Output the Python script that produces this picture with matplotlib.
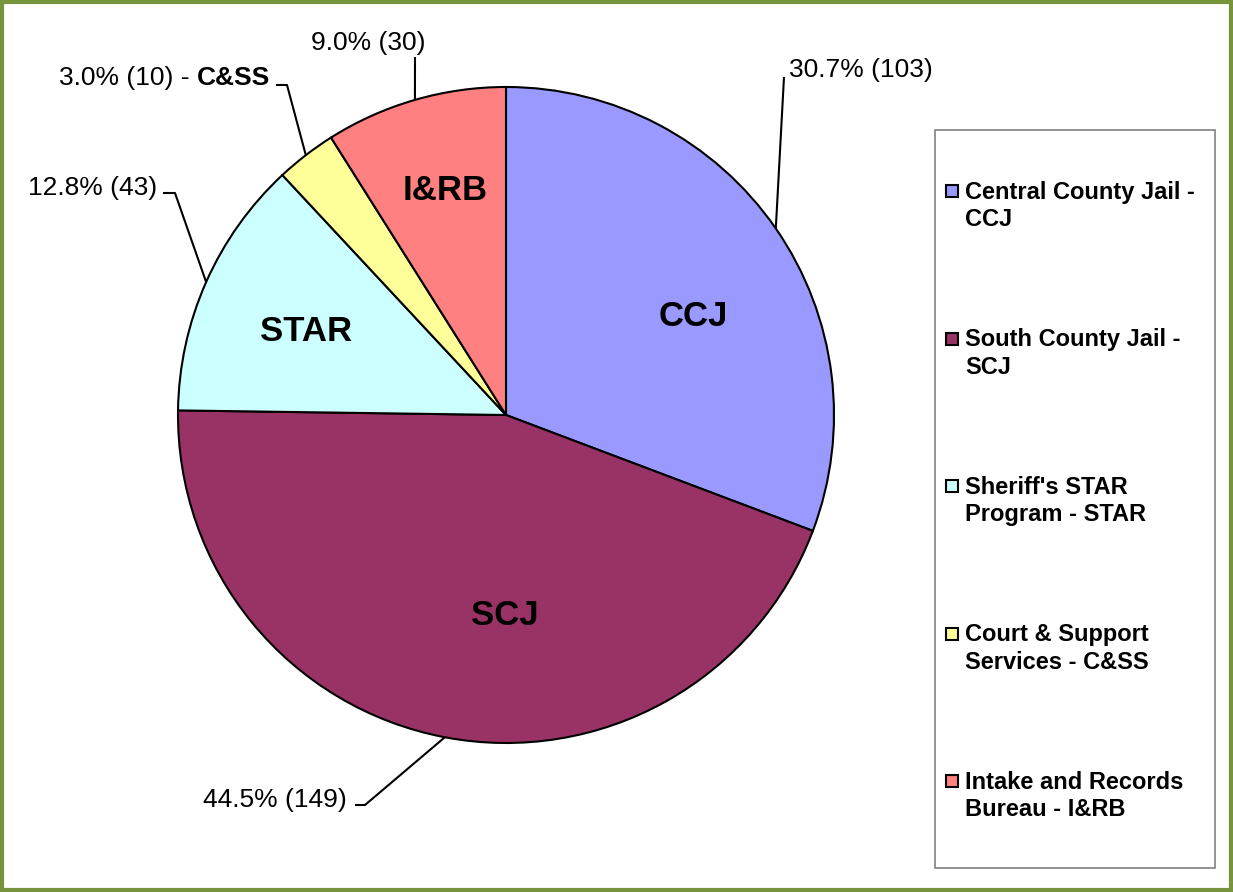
import numpy as np
import matplotlib
matplotlib.use("Agg")
import matplotlib.pyplot as plt
from matplotlib.patches import Rectangle

plt.rcParams['font.family'] = ['Liberation Sans', 'DejaVu Sans']

# data
short_names = ['CCJ', 'SCJ', 'STAR', 'C&SS', 'I&RB']
legend_labels = ['Central County Jail -\nCCJ',
                 'South County Jail -\nSCJ',
                 "Sheriff's STAR\nProgram - STAR",
                 'Court & Support\nServices - C&SS',
                 'Intake and Records\nBureau - I&RB']
counts = [103, 149, 43, 10, 30]
colors = ['#9999FF', '#993366', '#CCFFFF', '#FFFF99', '#FF8080']

# layout (pixel space, y down)
W, H = 1233, 892
center = (506, 415)
radius = 328
# inside label: fraction of radius and angle nudge (deg) from mid-angle
inner_frac = [0.645, 0.61, 0.66, 0.0, 0.71]
inner_nudge = [6.8, -10.3, -1.3, 0.0, 1.0]
# outer label: text position, alignment, leader path after the wedge edge
outer_text = [(789, 70, 'left'), (347, 800, 'right'), (157, 188, 'right'),
              (270, 78, 'right'), (368, 43, 'center')]
leader_path = [[(784, 77)],
               [(365, 805), (355, 805)],
               [(175, 193), (163, 193)],
               [(287, 85), (276, 85)],
               [(415, 57)]]

fig = plt.figure(figsize=(12.33, 8.92), dpi=100)
ax = fig.add_axes([0, 0, 1, 1])

# y axis is flipped, so counterclock in data = clockwise on screen
wedges, _ = ax.pie(counts, colors=colors, startangle=-90, counterclock=True,
                   center=center, radius=radius,
                   wedgeprops=dict(edgecolor='black', linewidth=1.5))
ax.set_xlim(0, W)
ax.set_ylim(H, 0)
ax.set_aspect('equal')
ax.axis('off')

total = sum(counts)
texts = []
for i, w in enumerate(wedges):
    mid_deg = (w.theta1 + w.theta2) / 2
    mid = np.deg2rad(mid_deg)
    ex = center[0] + radius * np.cos(mid)
    ey = center[1] + radius * np.sin(mid)
    # leader line
    xs = [ex] + [p[0] for p in leader_path[i]]
    ys = [ey] + [p[1] for p in leader_path[i]]
    ax.plot(xs, ys, color='black', lw=1.5, solid_capstyle='butt')
    # inside label (C&SS slice too small)
    if short_names[i] != 'C&SS':
        a = np.deg2rad(mid_deg + inner_nudge[i])
        ax.text(center[0] + inner_frac[i] * radius * np.cos(a),
                center[1] + inner_frac[i] * radius * np.sin(a),
                short_names[i], ha='center', va='center',
                fontsize=25, fontweight='bold')
    pct = f"{100 * counts[i] / total:.1f}% ({counts[i]})"
    tx, ty, ha = outer_text[i]
    if short_names[i] == 'C&SS':
        tb = ax.text(tx, ty, short_names[i], ha='right', va='center',
                     fontsize=19, fontweight='bold')
        texts.append((tb, pct + ' - ', ty))
    else:
        ax.text(tx, ty, pct, ha=ha, va='center', fontsize=19)

# place normal part of the mixed label left of the bold part
fig.canvas.draw()
for tb, s, ty in texts:
    bb = tb.get_window_extent()
    left = ax.transData.inverted().transform((bb.x0, bb.y0))[0]
    ax.text(left, ty, s, ha='right', va='center', fontsize=19)

# legend
ax.add_patch(Rectangle((935, 130), 280, 738, facecolor='white',
                       edgecolor='#808080', lw=1.2))
entry_y = np.linspace(206, 796, len(legend_labels))
for i, lab in enumerate(legend_labels):
    ax.add_patch(Rectangle((946, entry_y[i] - 21), 12, 12,
                           facecolor=colors[i], edgecolor='black', lw=1.5))
    ax.text(965, entry_y[i], lab, ha='left', va='center',
            fontsize=17, fontweight='bold', linespacing=1.25)

# outer green frame
ax.add_patch(Rectangle((2, 2), W - 4, H - 4, fill=False,
                       edgecolor='#77933C', lw=3, clip_on=False))

fig.savefig('out.png', dpi=100)
